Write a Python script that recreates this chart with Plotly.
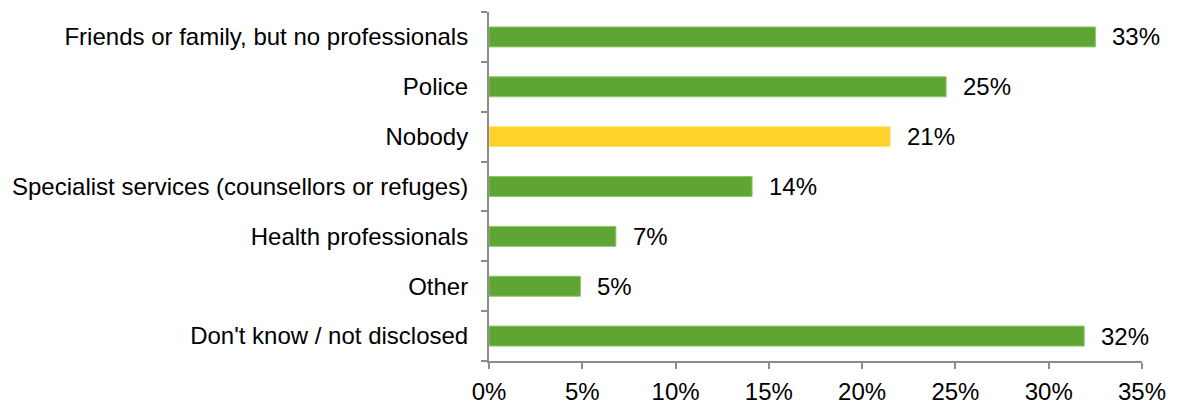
import plotly.graph_objects as go

# data, top to bottom as drawn
categories = [
    "Friends or family, but no professionals",
    "Police",
    "Nobody",
    "Specialist services (counsellors or refuges)",
    "Health professionals",
    "Other",
    "Don't know / not disclosed",
]
values = [32.5, 24.5, 21.5, 14.1, 6.8, 4.9, 31.9]
labels = ["33%", "25%", "21%", "14%", "7%", "5%", "32%"]
highlight = "Nobody"

green = "#5FA533"
yellow = "#FFD22B"
colors = [yellow if c == highlight else green for c in categories]
edges = ["#FFE27A" if c == highlight else "#8CC56A" for c in categories]

fig = go.Figure()

fig.add_trace(
    go.Bar(
        x=values,
        y=categories,
        orientation="h",
        marker=dict(color=colors, line=dict(color=edges, width=1)),
        width=0.4,
        hoverinfo="skip",
        showlegend=False,
    )
)

# value labels to the right of each bar
for cat, val, lab in zip(categories, values, labels):
    fig.add_annotation(
        x=val,
        y=cat,
        text=lab,
        showarrow=False,
        xanchor="left",
        xshift=15,
        font=dict(size=24, color="#000000"),
    )

axis_grey = "#8C8C8C"

# the page body adds an 8px margin, so the figure is sized 8px smaller
fig.update_layout(
    width=1170,
    height=397,
    margin=dict(l=481, r=36, t=4, b=44),
    plot_bgcolor="white",
    paper_bgcolor="white",
    font=dict(family="Liberation Sans, Arial, sans-serif", size=24, color="#000000"),
    xaxis=dict(
        range=[0, 35],
        tickvals=[0, 5, 10, 15, 20, 25, 30, 35],
        ticktext=["0%", "5%", "10%", "15%", "20%", "25%", "30%", "35%"],
        showgrid=False,
        zeroline=False,
        showline=True,
        linecolor=axis_grey,
        linewidth=2,
        ticks="outside",
        ticklen=6,
        tickwidth=2,
        tickcolor=axis_grey,
        ticklabelstandoff=2,
        automargin=False,
        fixedrange=True,
    ),
    yaxis=dict(
        categoryorder="array",
        categoryarray=categories[::-1],
        showgrid=False,
        zeroline=False,
        showline=True,
        linecolor=axis_grey,
        linewidth=2,
        ticks="outside",
        tickson="boundaries",
        ticklen=6,
        tickwidth=2,
        tickcolor=axis_grey,
        ticklabelstandoff=14,
        automargin=False,
        fixedrange=True,
    ),
)

fig.write_html("out.html")
